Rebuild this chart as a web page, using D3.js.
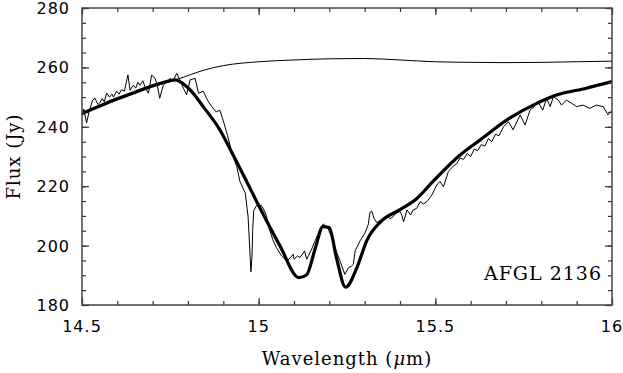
<!DOCTYPE html>
<html>
<head>
<meta charset="utf-8">
<script src="https://d3js.org/d3.v7.min.js"></script>
<style>
  body { margin: 0; background: #fff; }
</style>
</head>
<body>
<script>
let width = 623
let height = 373

// continuum (thin smooth line)
const continuum = [
  [14.50, 244.5], [14.60, 249.0], [14.70, 253.4], [14.78, 256.4], [14.84, 258.9],
  [14.90, 260.6], [15.00, 261.9], [15.10, 262.5], [15.20, 262.9], [15.30, 263.0],
  [15.40, 262.5], [15.50, 261.9], [15.60, 261.7], [15.70, 261.6], [15.80, 261.7],
  [15.90, 261.9], [16.00, 262.1]
]

// model fit (thick line)
const model = [
  [14.50, 244.5], [14.55, 247.0], [14.59, 249.0], [14.64, 251.2], [14.68, 253.0],
  [14.73, 254.9], [14.763, 255.8], [14.777, 255.2], [14.806, 252.4], [14.843, 246.8],
  [14.89, 239.0], [14.92, 232.3], [14.96, 223.0], [15.00, 213.5], [15.06, 200.0],
  [15.114, 189.2], [15.136, 190.2], [15.16, 199.0], [15.182, 206.4], [15.20, 206.0],
  [15.22, 196.0], [15.246, 186.0], [15.278, 192.6], [15.306, 201.7], [15.345, 208.0],
  [15.40, 212.1], [15.447, 215.8], [15.494, 221.7], [15.57, 230.5], [15.627, 235.6],
  [15.71, 242.9], [15.787, 247.9], [15.843, 250.7], [15.928, 253.0], [16.00, 255.2]
]

// observed spectrum (thin noisy line)
const observed = [
  [14.500, 243.5], [14.505, 246.0], [14.513, 241.3], [14.520, 245.0], [14.530, 249.0],
  [14.537, 249.6], [14.545, 247.5], [14.550, 248.0], [14.557, 249.5], [14.563, 248.5],
  [14.570, 251.3], [14.578, 250.0], [14.585, 251.0], [14.589, 250.0], [14.598, 252.0],
  [14.605, 251.0], [14.612, 252.5], [14.620, 252.0], [14.630, 257.5], [14.636, 252.3],
  [14.645, 254.0], [14.652, 253.0], [14.658, 255.0], [14.664, 254.0], [14.672, 255.5],
  [14.680, 253.0], [14.688, 251.3], [14.697, 257.4], [14.707, 256.3], [14.713, 254.0],
  [14.720, 249.6], [14.730, 254.0], [14.740, 255.0], [14.749, 256.3], [14.758, 255.5],
  [14.768, 258.0], [14.777, 255.8], [14.787, 253.0], [14.796, 250.8], [14.806, 255.8],
  [14.820, 256.3], [14.830, 251.3], [14.843, 252.0], [14.855, 249.0], [14.867, 246.8],
  [14.880, 245.0], [14.890, 245.6], [14.900, 242.0], [14.912, 237.0], [14.925, 231.0],
  [14.938, 226.6], [14.947, 221.6], [14.962, 217.7], [14.970, 209.8], [14.975, 198.5],
  [14.978, 191.2], [14.981, 196.0], [14.983, 205.0], [14.986, 211.8], [14.994, 213.5],
  [15.008, 213.5], [15.015, 212.0], [15.022, 210.1], [15.027, 206.7], [15.040, 202.0],
  [15.050, 199.4], [15.065, 196.5], [15.080, 194.8], [15.090, 196.0], [15.098, 197.1],
  [15.100, 195.4], [15.110, 196.5], [15.117, 196.0], [15.130, 198.2], [15.136, 195.4],
  [15.150, 198.8], [15.160, 201.7], [15.174, 205.6], [15.183, 207.3], [15.190, 206.5],
  [15.197, 205.6], [15.210, 201.7], [15.220, 198.0], [15.230, 194.9], [15.244, 190.3],
  [15.254, 192.6], [15.262, 193.0], [15.268, 193.7], [15.273, 198.2], [15.287, 201.6],
  [15.300, 204.0], [15.310, 207.0], [15.315, 211.2], [15.320, 211.6], [15.327, 209.0],
  [15.334, 207.8], [15.345, 208.5], [15.355, 209.5], [15.365, 210.0], [15.372, 209.0],
  [15.380, 209.7], [15.390, 211.0], [15.400, 211.5], [15.405, 210.3], [15.410, 208.0],
  [15.420, 212.0], [15.430, 210.3], [15.437, 212.0], [15.447, 212.5], [15.457, 214.8],
  [15.466, 214.0], [15.476, 214.8], [15.490, 217.0], [15.504, 220.4], [15.513, 221.6],
  [15.523, 219.8], [15.537, 225.0], [15.550, 226.7], [15.560, 227.5], [15.570, 229.5],
  [15.580, 229.0], [15.590, 231.0], [15.600, 230.0], [15.610, 232.5], [15.620, 232.0],
  [15.630, 234.0], [15.640, 233.5], [15.650, 236.0], [15.660, 235.0], [15.670, 237.5],
  [15.680, 237.0], [15.693, 240.0], [15.707, 241.7], [15.720, 239.0], [15.740, 244.0],
  [15.754, 240.6], [15.768, 245.6], [15.780, 246.8], [15.790, 248.5], [15.804, 245.6],
  [15.815, 249.6], [15.825, 246.8], [15.834, 250.1], [15.848, 249.0], [15.857, 247.3],
  [15.871, 249.0], [15.886, 247.9], [15.900, 246.8], [15.918, 247.3], [15.937, 246.2],
  [15.956, 247.3], [15.975, 246.8], [15.989, 244.0], [16.000, 245.6]
]

const xMajor = [14.5, 15, 15.5, 16]
const xMinor = d3.range(14.5, 16.0001, 0.1)
const yMajor = [180, 200, 220, 240, 260, 280]
const yMinor = d3.range(180, 280.001, 5)

const pLeft = 82, pRight = 612, pTop = 8, pBottom = 305

const x = d3.scaleLinear().domain([14.5, 16]).range([pLeft, pRight])
const y = d3.scaleLinear().domain([180, 280]).range([pBottom, pTop])

const svg = d3.select("body")
    .append('svg')
    .attr('width', width)
    .attr('height', height)

svg.append('defs').append('clipPath')
    .attr('id', 'clip')
  .append('rect')
    .attr('x', pLeft).attr('y', pTop)
    .attr('width', pRight - pLeft).attr('height', pBottom - pTop)

const g = svg.append('g').attr('clip-path', 'url(#clip)')

const line = d3.line()
    .x(d => x(d[0]))
    .y(d => y(d[1]))

g.append('path')
    .datum(continuum)
    .attr('fill', 'none')
    .attr('stroke', '#000')
    .attr('stroke-width', 1)
    .attr('d', line.curve(d3.curveMonotoneX))

g.append('path')
    .datum(observed)
    .attr('fill', 'none')
    .attr('stroke', '#000')
    .attr('stroke-width', 1)
    .attr('stroke-linejoin', 'round')
    .attr('d', line.curve(d3.curveLinear))

g.append('path')
    .datum(model)
    .attr('fill', 'none')
    .attr('stroke', '#000')
    .attr('stroke-width', 3.2)
    .attr('stroke-linejoin', 'round')
    .attr('d', line.curve(d3.curveMonotoneX))

// ticks on all four sides, pointing inward
const axes = svg.append('g')

axes.append('g')
    .attr('transform', `translate(0,${pBottom})`)
    .call(d3.axisTop(x).tickValues(xMinor).tickSize(4).tickFormat(''))
axes.append('g')
    .attr('transform', `translate(0,${pBottom})`)
    .call(d3.axisTop(x).tickValues(xMajor).tickSize(7).tickFormat(''))
axes.append('g')
    .attr('transform', `translate(0,${pTop})`)
    .call(d3.axisBottom(x).tickValues(xMinor).tickSize(4).tickFormat(''))
axes.append('g')
    .attr('transform', `translate(0,${pTop})`)
    .call(d3.axisBottom(x).tickValues(xMajor).tickSize(7).tickFormat(''))
axes.append('g')
    .attr('transform', `translate(${pLeft},0)`)
    .call(d3.axisRight(y).tickValues(yMinor).tickSize(4).tickFormat(''))
axes.append('g')
    .attr('transform', `translate(${pLeft},0)`)
    .call(d3.axisRight(y).tickValues(yMajor).tickSize(7).tickFormat(''))
axes.append('g')
    .attr('transform', `translate(${pRight},0)`)
    .call(d3.axisLeft(y).tickValues(yMinor).tickSize(4).tickFormat(''))
axes.append('g')
    .attr('transform', `translate(${pRight},0)`)
    .call(d3.axisLeft(y).tickValues(yMajor).tickSize(7).tickFormat(''))

axes.selectAll('.domain').remove()
axes.selectAll('line').attr('stroke', '#333').attr('stroke-width', 1.2)

svg.append('rect')
    .attr('x', pLeft).attr('y', pTop)
    .attr('width', pRight - pLeft).attr('height', pBottom - pTop)
    .attr('fill', 'none')
    .attr('stroke', '#444')
    .attr('stroke-width', 1.5)

// tick labels
const labelFont = 'DejaVu Sans, sans-serif'
svg.selectAll('.xlab')
    .data(xMajor)
    .enter()
    .append('text')
      .attr('x', d => x(d))
      .attr('y', 332)
      .attr('text-anchor', 'middle')
      .style('font-family', labelFont)
      .style('font-size', '16px')
      .style('letter-spacing', '1px')
      .text(d => d)

svg.selectAll('.ylab')
    .data(yMajor)
    .enter()
    .append('text')
      .attr('x', 70)
      .attr('y', d => y(d) + 6)
      .attr('text-anchor', 'end')
      .style('font-family', labelFont)
      .style('font-size', '16px')
      .style('letter-spacing', '1px')
      .text(d => d)

const titleFont = 'DejaVu Serif, serif'
const xt = svg.append('text')
    .attr('x', (pLeft + pRight) / 2)
    .attr('y', 365)
    .attr('text-anchor', 'middle')
    .style('font-family', titleFont)
    .style('font-size', '18px')
    .style('letter-spacing', '1px')
xt.append('tspan').text('Wavelength (')
xt.append('tspan').style('font-style', 'italic').text('μ')
xt.append('tspan').text('m)')

svg.append('text')
    .attr('transform', `translate(20,${(pTop + pBottom) / 2}) rotate(-90)`)
    .attr('text-anchor', 'middle')
    .style('font-family', titleFont)
    .style('font-size', '18px')
    .style('letter-spacing', '1px')
    .text('Flux (Jy)')

svg.append('text')
    .attr('x', 602)
    .attr('y', 280)
    .attr('text-anchor', 'end')
    .style('font-family', titleFont)
    .style('font-size', '19px')
    .style('letter-spacing', '1px')
    .text('AFGL 2136')
</script>
</body>
</html>
